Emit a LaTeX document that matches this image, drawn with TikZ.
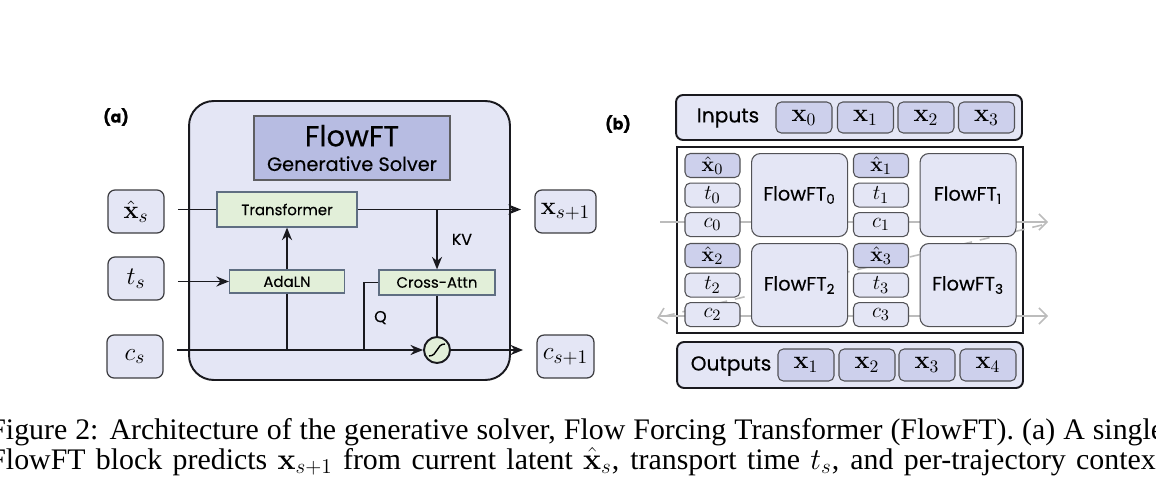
\documentclass[tikz,border=0pt]{standalone}
\usepackage[no-math]{fontspec}
\setmainfont{Liberation Serif}
\newfontfamily\geo{Poppins}[FakeBold=0.3]
\usetikzlibrary{arrows.meta,positioning,calc}
\definecolor{lav}{RGB}{228,230,245}
\definecolor{lavdeep}{RGB}{183,188,226}
\definecolor{lavmid}{RGB}{205,208,236}
\definecolor{mint}{RGB}{226,239,217}
\definecolor{slate}{RGB}{95,110,130}
\definecolor{ink}{RGB}{25,25,30}
\definecolor{ash}{RGB}{188,188,188}
\newcommand{\fs}[1]{\fontsize{#1}{#1}\selectfont}
\tikzset{
  >={Stealth[length=2.5mm,width=2mm]},
  var/.style={draw=ink!85,fill=#1,rounded corners=4pt,line width=0.7pt,
    minimum width=11.2mm,minimum height=8.6mm,outer xsep=2.8mm,font=\fs{15}},
  var/.default=lav,
  op/.style={draw=slate,fill=mint,line width=0.7pt,inner sep=0pt,font=\geo\fs{8.5}},
  flow/.style={line width=1.1pt,draw=ink},
  mixer/.style={circle,draw=ink,fill=mint,line width=1.1pt,minimum size=5.2mm,inner sep=0pt},
  tag/.style={font=\geo\fs{9}},
  bar/.style={draw=ink,fill=lav,rounded corners=4pt,line width=1.1pt,
    minimum width=69.2mm,minimum height=9mm},
  chip/.style={draw=ink!75,fill=#1,rounded corners=3pt,line width=0.6pt,
    minimum width=11mm,minimum height=4.8mm,inner sep=0pt,font=\fs{13}},
  chip/.default=lav,
  cell/.style={draw=ink!75,fill=lav,rounded corners=5pt,line width=0.6pt,
    minimum width=19.2mm,minimum height=16.6mm,font=\geo\fs{11}},
  faint/.style={draw=ash,line width=0.9pt,-{Straight Barb[length=1.6mm,width=3.2mm]}},
}

\begin{document}
\begin{tikzpicture}[x=0.02cm,y=-0.02cm]
  \useasboundingbox (0,0) rectangle (1156,486);
  \clip (0,0) rectangle (1156,486);
  % (a) one FlowFT block
  \node[font=\geo\bfseries\fs{9}] (la) at (116,117) {(a)};
  \node[draw=ink,fill=lav,rounded corners=14pt,line width=1.1pt,minimum width=64.2mm,minimum height=55.8mm] (blk) at (349.5,240.5) {};
  \node[draw=ink!70,fill=lavdeep,line width=0.8pt,minimum width=39.2mm,minimum height=12.8mm,align=center,font=\geo\fs{11}] (hdr) at (352,148)
    {{\fs{16.5}FlowFT}\\[3pt]Generative Solver};
  \node[op,minimum width=28mm,minimum height=7mm] (tr) at (287,209.5) {Transformer};
  \node[op,minimum width=23mm,minimum height=4.6mm] (ada) at (287,281.5) {AdaLN};
  \node[op,minimum width=23.2mm,minimum height=5mm] (xa) at (437,282.5) {Cross-Attn};
  \node[mixer] (mix) at (437,350) {};
  \draw[line width=0.8pt] ([shift={(-8,6)}]mix.center) .. controls ([shift={(1,6)}]mix.center) and ([shift={(-1,-6)}]mix.center) .. ([shift={(8,-6)}]mix.center);
  \node[var] (xh) at (136,211.5) {$\hat{\mathbf{x}}_s$};
  \node[var] (ts) at (136,278.5) {$t_s$};
  \node[var] (cs) at (135,356.5) {$c_s$};
  \node[var] (xo) at (565.5,211.5) {$\mathbf{x}_{s+1}$};
  \node[var] (co) at (565.5,356.5) {$c_{s+1}$};
  \draw[flow] (xh.east |- tr) -- (tr.west);
  \draw[flow,->] (tr.east) -- (tr -| xo.west);
  \draw[flow,->] (tr -| xa) -- (xa.north) node[tag,midway,right=1.6mm] {KV};
  \draw[flow,->] (ts.east |- ada) -- (ada.west);
  \draw[flow,->] (ada.north) -- (tr.south);
  \draw[flow,->] (cs.east |- mix) -- (mix.west);
  \draw[flow] (ada.south) -- (ada.south |- mix);
  \draw[flow] (xa.west) -- ++(-14,0) coordinate (qk) -- (qk |- mix) node[tag,pos=0.52,right=0.6mm] {Q};
  \draw[flow] (xa.south) -- (mix.north);
  \draw[flow,->] (mix.east) -- (mix -| co.west);
  % (b) four blocks in parallel
  \node[font=\geo\bfseries\fs{9}] (lb) at (618,124) {(b)};
  \node[bar] (inb) at (849,117.5) {};
  \node[font=\geo\fs{11.5}] (inl) at (728,118) {Inputs};
  \foreach \k/\xx in {0/804,1/865.5,2/926,3/986.5}
    \node[chip=lavmid,minimum width=11.2mm,minimum height=6.2mm,font=\fs{14}] (in\k) at (\xx,117.5) {$\mathbf{x}_{\k}$};
  \node[draw=ink,fill=white,line width=1.1pt,minimum width=69.2mm,minimum height=37.2mm] (grid) at (850,240) {};
  \coordinate (r1a) at (660,222);
  \coordinate (r1b) at (1048,222);
  \coordinate (r2a) at (660,316);
  \coordinate (r2b) at (1048,316);
  \coordinate (wrap) at (1042,225);
  \coordinate (back) at (657,318);
  \draw[faint] (r1a) -- (r1b);
  \draw[faint] (r2a) -- (r2b);
  \draw[faint,dash pattern=on 2mm off 1.6mm] (wrap) -- (back);
  \foreach \col/\cx in {0/712.5,1/881}{
    \foreach \off/\cy in {0/165.5,2/255.5}{
      \pgfmathtruncatemacro\i{\col+\off}
      \node[chip=lavmid] (xh\i) at (\cx,\cy) {$\hat{\mathbf{x}}_{\i}$};
      \node[chip,below=0.9mm of xh\i] (t\i) {$t_{\i}$};
      \node[chip,below=0.9mm of t\i] (c\i) {$c_{\i}$};
      \node[cell,right=2.1mm of t\i] (ff\i) {FlowFT\textsubscript{\i}};
    }
  }
  \node[bar,minimum height=9.2mm] (outb) at (850,365) {};
  \node[font=\geo\fs{11.5}] (outl) at (731,366) {Outputs};
  \foreach \k/\xx in {1/806,2/867,3/927,4/988}
    \node[chip=lavmid,minimum width=11.2mm,minimum height=6.4mm,font=\fs{14}] (out\k) at (\xx,365) {$\mathbf{x}_{\k}$};
  % caption
  \node[anchor=base west,inner sep=0pt,font=\fs{17}] (cap1) at (-11,439)
    {\makebox[23.5cm][s]{Figure 2: Architecture of the generative solver, Flow Forcing Transformer (FlowFT). (a) A single}};
  \node[anchor=base west,inner sep=0pt,font=\fs{17}] (cap2) at (-11,469)
    {\makebox[23.5cm][s]{FlowFT block predicts $\mathbf{x}_{s+1}$ from current latent $\hat{\mathbf{x}}_s$, transport time $t_s$, and per-trajectory context}};
\end{tikzpicture}
\end{document}
